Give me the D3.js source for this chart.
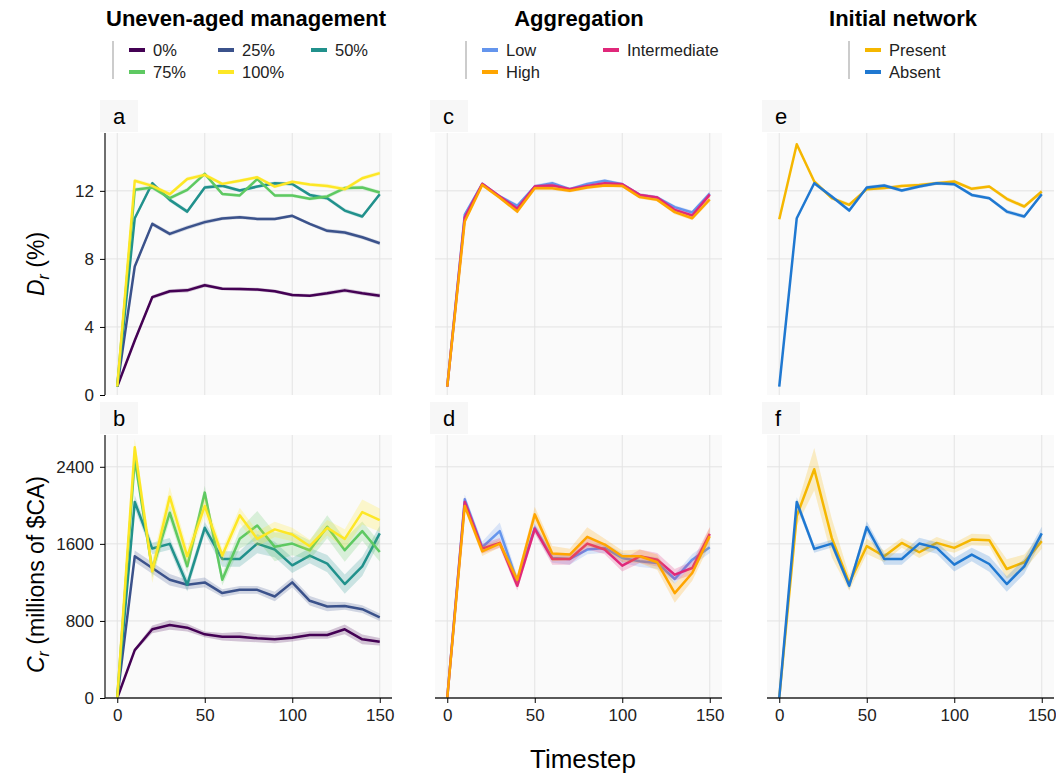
<!DOCTYPE html>
<html>
<head>
<meta charset="utf-8">
<script src="https://cdn.jsdelivr.net/npm/d3@7"></script>
<style>
  body { margin: 0; background: #fff; }
  svg { font-family: "Liberation Sans", Arial, sans-serif; }
</style>
</head>
<body>
<div id="chart"></div>
<script>
// timesteps
const steps = [0, 10, 20, 30, 40, 50, 60, 70, 80, 90, 100, 110, 120, 130, 140, 150];

// --- Uneven-aged management ---
const unevenLabels = ["0%", "25%", "50%", "75%", "100%"];
const unevenColors = ["#440154", "#3b528b", "#21918c", "#5ec962", "#fde725"];
const drUneven0   = [0.5, 3.2, 5.75, 6.1, 6.15, 6.45, 6.25, 6.23, 6.2, 6.1, 5.88, 5.84, 5.98, 6.15, 5.98, 5.84];
const drUneven25  = [0.5, 7.55, 10.06, 9.47, 9.84, 10.16, 10.37, 10.45, 10.35, 10.35, 10.53, 10.06, 9.65, 9.55, 9.27, 8.92];
const drUneven50  = [0.5, 10.39, 12.45, 11.47, 10.78, 12.2, 12.3, 12.02, 12.25, 12.45, 12.4, 11.76, 11.57, 10.84, 10.49, 11.8];
const drUneven75  = [0.5, 12.06, 12.2, 11.57, 12.06, 13.0, 11.82, 11.73, 12.69, 11.73, 11.73, 11.53, 11.67, 12.16, 12.2, 11.9];
const drUneven100 = [0.5, 12.59, 12.29, 11.8, 12.7, 12.94, 12.41, 12.59, 12.8, 12.25, 12.53, 12.37, 12.29, 12.1, 12.74, 13.04];
const crUneven0   = [0, 497, 713, 758, 730, 661, 636, 636, 619, 609, 626, 654, 654, 713, 609, 584];
const crUneven25  = [0, 1471, 1350, 1228, 1176, 1200, 1089, 1123, 1123, 1054, 1200, 1009, 950, 956, 922, 838];
const crUneven50  = [0, 2035, 1551, 1600, 1176, 1767, 1443, 1443, 1603, 1541, 1377, 1478, 1395, 1183, 1367, 1708];
const crUneven75  = [0, 2480, 1332, 1923, 1367, 2132, 1228, 1652, 1791, 1569, 1603, 1534, 1777, 1534, 1732, 1516];
const crUneven100 = [0, 2602, 1315, 2090, 1471, 1993, 1478, 1896, 1652, 1750, 1697, 1576, 1767, 1652, 1930, 1847];
// confidence half-widths
const drUnevenCi = [0, 0.12, 0.12, 0.12, 0.12, 0.12, 0.1, 0.1, 0.1, 0.1, 0.1, 0.1, 0.12, 0.12, 0.12, 0.12];
const crUnevenCi0   = [0, 20, 40, 50, 40, 30, 40, 50, 40, 40, 40, 40, 40, 50, 50, 40];
const crUnevenCi25  = [0, 60, 60, 60, 50, 50, 40, 40, 40, 50, 50, 50, 50, 40, 40, 40];
const crUnevenCi50  = [0, 70, 60, 60, 70, 60, 80, 80, 100, 80, 80, 80, 90, 100, 100, 80];
const crUnevenCi75  = [0, 80, 80, 80, 70, 70, 60, 100, 150, 150, 120, 100, 120, 120, 100, 100];
const crUnevenCi100 = [0, 90, 120, 100, 90, 90, 70, 80, 80, 80, 70, 70, 80, 100, 130, 120];

// --- Aggregation (plot order Low, Intermediate, High) ---
const aggLabels = ["Low", "Intermediate", "High"];
const aggColors = ["#6495ed", "#e0287a", "#ffa500"];
const drAggLow  = [0.49, 10.6, 12.41, 11.67, 11.12, 12.25, 12.45, 12.1, 12.41, 12.59, 12.39, 11.76, 11.61, 11.04, 10.73, 11.84];
const drAggMid  = [0.49, 10.45, 12.41, 11.67, 10.94, 12.25, 12.31, 12.1, 12.29, 12.45, 12.39, 11.76, 11.61, 10.88, 10.55, 11.78];
const drAggHigh = [0.49, 10.2, 12.35, 11.6, 10.78, 12.15, 12.15, 12.0, 12.2, 12.31, 12.29, 11.63, 11.47, 10.75, 10.39, 11.5];
const crAggLow  = [0, 2062, 1565, 1732, 1210, 1767, 1454, 1443, 1541, 1558, 1454, 1419, 1402, 1235, 1436, 1565];
const crAggMid  = [0, 2035, 1551, 1610, 1165, 1756, 1443, 1443, 1603, 1541, 1374, 1471, 1436, 1280, 1349, 1704];
const crAggHigh = [0, 1993, 1523, 1603, 1228, 1906, 1499, 1489, 1673, 1593, 1471, 1471, 1409, 1089, 1297, 1680];
const drAggCi = [0, 0.12, 0.1, 0.1, 0.12, 0.12, 0.12, 0.1, 0.1, 0.1, 0.1, 0.1, 0.1, 0.12, 0.12, 0.15];
const crAggCiLow  = [0, 50, 60, 90, 60, 50, 50, 60, 50, 50, 50, 60, 60, 50, 60, 60];
const crAggCiMid  = [0, 50, 50, 50, 50, 50, 60, 60, 60, 50, 60, 70, 70, 60, 70, 70];
const crAggCiHigh = [0, 40, 50, 40, 50, 80, 80, 60, 100, 60, 60, 70, 80, 100, 80, 90];

// --- Initial network (plot order Present, Absent) ---
const netLabels = ["Present", "Absent"];
const netColors = ["#f5b700", "#1f78d1"];
const drNetPresent = [10.33, 14.74, 12.55, 11.57, 11.18, 12.1, 12.16, 12.29, 12.35, 12.45, 12.55, 12.12, 12.25, 11.53, 11.08, 11.96];
const drNetAbsent  = [0.49, 10.39, 12.45, 11.67, 10.84, 12.2, 12.31, 12.02, 12.25, 12.45, 12.39, 11.76, 11.57, 10.78, 10.49, 11.8];
const crNetPresent = [0, 1889, 2375, 1662, 1193, 1576, 1471, 1610, 1513, 1610, 1558, 1645, 1638, 1339, 1409, 1628];
const crNetAbsent  = [0, 2035, 1548, 1603, 1165, 1774, 1443, 1443, 1603, 1558, 1384, 1489, 1391, 1183, 1367, 1708];
const drNetCi = [0, 0.1, 0.1, 0.1, 0.12, 0.1, 0.1, 0.1, 0.1, 0.1, 0.1, 0.1, 0.1, 0.12, 0.12, 0.12];
const crNetCiPresent = [0, 100, 220, 200, 80, 80, 60, 50, 60, 60, 50, 60, 60, 100, 80, 80];
const crNetCiAbsent  = [0, 50, 40, 40, 40, 60, 60, 60, 60, 60, 70, 70, 80, 80, 80, 70];

// tick labels
const xTicks = [0, 50, 100, 150];
const drTicks = [0, 4, 8, 12];
const crTicks = [0, 800, 1600, 2400];

// panel definitions
const panels = [
  {id: "a", col: 0, row: 0, colors: unevenColors,
   series: [drUneven0, drUneven25, drUneven50, drUneven75, drUneven100],
   ci: [drUnevenCi, drUnevenCi, drUnevenCi, drUnevenCi, drUnevenCi]},
  {id: "b", col: 0, row: 1, colors: unevenColors,
   series: [crUneven0, crUneven25, crUneven50, crUneven75, crUneven100],
   ci: [crUnevenCi0, crUnevenCi25, crUnevenCi50, crUnevenCi75, crUnevenCi100]},
  {id: "c", col: 1, row: 0, colors: aggColors,
   series: [drAggLow, drAggMid, drAggHigh], ci: [drAggCi, drAggCi, drAggCi]},
  {id: "d", col: 1, row: 1, colors: aggColors,
   series: [crAggLow, crAggMid, crAggHigh], ci: [crAggCiLow, crAggCiMid, crAggCiHigh]},
  {id: "e", col: 2, row: 0, colors: netColors,
   series: [drNetPresent, drNetAbsent], ci: [drNetCi, drNetCi]},
  {id: "f", col: 2, row: 1, colors: netColors,
   series: [crNetPresent, crNetAbsent], ci: [crNetCiPresent, crNetCiAbsent]}
];

const width = 1056, height = 776;
const colLeft = [105, 435, 767];
const plotW = 287;
const rowTop = [133, 435], rowBottom = [395, 698];

const svg = d3.select("#chart").append("svg")
  .attr("width", width)
  .attr("height", height);

const yScales = [
  d3.scaleLinear().domain([0, 15.4]).range([rowBottom[0], rowTop[0]]),
  d3.scaleLinear().domain([0, 2730]).range([rowBottom[1], rowTop[1]])
];
const yTickSets = [drTicks, crTicks];

panels.forEach(p => {
  const x = d3.scaleLinear().domain([-7, 157]).range([colLeft[p.col], colLeft[p.col] + plotW]);
  const y = yScales[p.row];
  const g = svg.append("g");
  const top = rowTop[p.row], bottom = rowBottom[p.row];

  // background
  g.append("rect")
    .attr("x", colLeft[p.col]).attr("y", top)
    .attr("width", plotW).attr("height", bottom - top)
    .attr("fill", "#fafafa");

  // grid
  g.selectAll(".vgrid").data(xTicks).join("line")
    .attr("x1", d => x(d)).attr("x2", d => x(d))
    .attr("y1", top).attr("y2", bottom)
    .attr("stroke", "#e3e3e3").attr("stroke-width", 1);
  g.selectAll(".hgrid").data(yTickSets[p.row].filter(d => d > 0)).join("line")
    .attr("x1", colLeft[p.col]).attr("x2", colLeft[p.col] + plotW)
    .attr("y1", d => y(d)).attr("y2", d => y(d))
    .attr("stroke", "#e3e3e3").attr("stroke-width", 1);

  // panel letter box
  g.append("rect")
    .attr("x", colLeft[p.col] - 5).attr("y", top - 33)
    .attr("width", 38).attr("height", 32)
    .attr("fill", "#f7f7f7");
  g.append("text")
    .attr("x", colLeft[p.col] + 8).attr("y", top - 9)
    .attr("font-size", 22)
    .text(p.id);

  // bands and lines
  p.series.forEach((s, i) => {
    const pts = steps.map((t, k) => ({t: t, v: s[k], c: p.ci[i][k]}));
    g.append("path").datum(pts)
      .attr("fill", p.colors[i]).attr("fill-opacity", 0.22)
      .attr("d", d3.area().x(d => x(d.t)).y0(d => y(d.v - d.c)).y1(d => y(d.v + d.c)));
    g.append("path").datum(pts)
      .attr("fill", "none").attr("stroke", p.colors[i])
      .attr("stroke-width", 2.5).attr("stroke-linejoin", "round")
      .attr("d", d3.line().x(d => x(d.t)).y(d => y(d.v)));
  });

  // left axis (first column only)
  if (p.col === 0) {
    const ax = g.append("g")
      .attr("transform", `translate(${colLeft[p.col]},0)`)
      .call(d3.axisLeft(y).tickValues(yTickSets[p.row]).tickFormat(d3.format("d"))
        .tickSize(5).tickPadding(6).tickSizeOuter(0));
    ax.select(".domain").attr("d", `M0,${top}V${bottom}`).attr("stroke", "#222").attr("stroke-width", 1.3);
    ax.selectAll("text").attr("font-size", 17).attr("fill", "#222")
      .attr("font-family", "Liberation Sans, Arial, sans-serif");
  }
  // bottom axis (bottom row only)
  if (p.row === 1) {
    const bx = g.append("g")
      .attr("transform", `translate(0,${bottom})`)
      .call(d3.axisBottom(x).tickValues(xTicks).tickFormat(d3.format("d"))
        .tickSize(5).tickPadding(6).tickSizeOuter(0));
    bx.select(".domain").attr("d", `M${colLeft[p.col]},0H${colLeft[p.col] + plotW}`)
      .attr("stroke", "#222").attr("stroke-width", 1.3);
    bx.selectAll("text").attr("font-size", 17).attr("fill", "#222")
      .attr("font-family", "Liberation Sans, Arial, sans-serif");
  }
});

// y labels
const ylab1 = svg.append("text")
  .attr("transform", `translate(44,${(rowTop[0] + rowBottom[0]) / 2}) rotate(-90)`)
  .attr("text-anchor", "middle").attr("font-size", 23);
ylab1.append("tspan").attr("font-style", "italic").text("D");
ylab1.append("tspan").attr("font-style", "italic").attr("font-size", 16).attr("dy", 5).text("r");
ylab1.append("tspan").attr("dy", -5).text(" (%)");

const ylab2 = svg.append("text")
  .attr("transform", `translate(44,${(rowTop[1] + rowBottom[1]) / 2 + 8}) rotate(-90)`)
  .attr("text-anchor", "middle").attr("font-size", 23);
ylab2.append("tspan").attr("font-style", "italic").text("C");
ylab2.append("tspan").attr("font-style", "italic").attr("font-size", 16).attr("dy", 5).text("r");
ylab2.append("tspan").attr("dy", -5).text(" (millions of $CA)");

// x label
svg.append("text")
  .attr("x", 583).attr("y", 768)
  .attr("text-anchor", "middle").attr("font-size", 26)
  .text("Timestep");

// column titles
const titles = ["Uneven-aged management", "Aggregation", "Initial network"];
const titleX = [246, 579, 903];
svg.selectAll(".title").data(titles).join("text")
  .attr("x", (d, i) => titleX[i]).attr("y", 26)
  .attr("text-anchor", "middle").attr("font-size", 22).attr("font-weight", "bold")
  .text(d => d);

// legends
function legend(barX, items) {
  const lg = svg.append("g");
  lg.append("line").attr("x1", barX).attr("x2", barX).attr("y1", 41).attr("y2", 79)
    .attr("stroke", "#bbb").attr("stroke-width", 1.5);
  items.forEach(it => {
    lg.append("line").attr("x1", it.x).attr("x2", it.x + 16)
      .attr("y1", it.y).attr("y2", it.y)
      .attr("stroke", it.color).attr("stroke-width", 4);
    lg.append("text").attr("x", it.x + 24).attr("y", it.y + 6)
      .attr("font-size", 16.5).attr("fill", "#222").text(it.label);
  });
}
legend(113, [
  {label: unevenLabels[0], color: unevenColors[0], x: 129, y: 50},
  {label: unevenLabels[1], color: unevenColors[1], x: 218, y: 50},
  {label: unevenLabels[2], color: unevenColors[2], x: 311, y: 50},
  {label: unevenLabels[3], color: unevenColors[3], x: 129, y: 72},
  {label: unevenLabels[4], color: unevenColors[4], x: 218, y: 72}
]);
legend(466, [
  {label: aggLabels[0], color: aggColors[0], x: 482, y: 50},
  {label: aggLabels[1], color: aggColors[1], x: 603, y: 50},
  {label: aggLabels[2], color: aggColors[2], x: 482, y: 72}
]);
legend(849, [
  {label: netLabels[0], color: netColors[0], x: 865, y: 50},
  {label: netLabels[1], color: netColors[1], x: 865, y: 72}
]);
</script>
</body>
</html>
